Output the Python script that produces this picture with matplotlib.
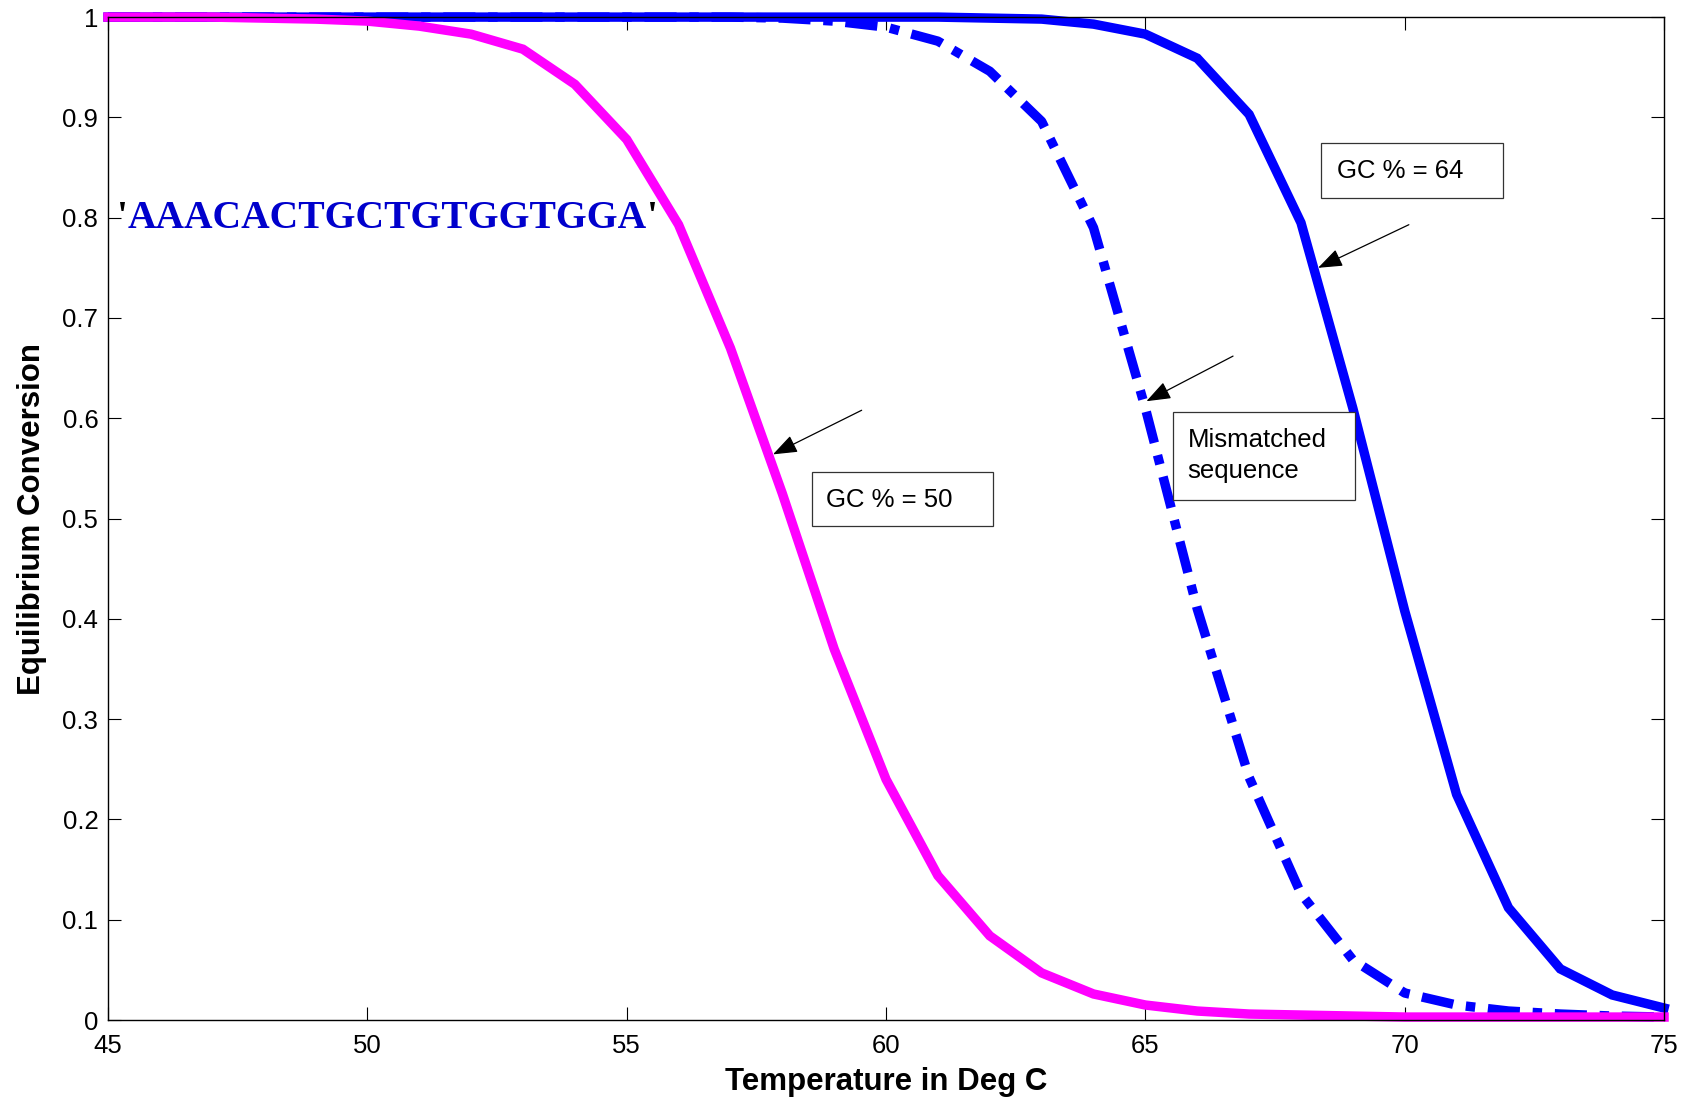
import matplotlib
matplotlib.use("Agg")
import matplotlib.pyplot as plt
from matplotlib.patches import Rectangle

# Temperature grid (deg C)
temperature = list(range(45, 76))

# Equilibrium conversion for each probe
gc50 = [1.000, 1.000, 1.000, 0.999, 0.998, 0.996, 0.991, 0.983, 0.968, 0.933,
        0.878, 0.793, 0.670, 0.525, 0.370, 0.240, 0.144, 0.084, 0.047, 0.026,
        0.015, 0.009, 0.006, 0.005, 0.004, 0.003, 0.003, 0.003, 0.003, 0.003,
        0.003]
mismatched = [1.000, 1.000, 1.000, 1.000, 1.000, 1.000, 1.000, 1.000, 1.000, 1.000,
              1.000, 1.000, 1.000, 0.999, 0.996, 0.990, 0.976, 0.946, 0.896, 0.790,
              0.610, 0.410, 0.242, 0.126, 0.060, 0.027, 0.015, 0.009, 0.006, 0.004,
              0.003]
gc64 = [1.000, 1.000, 1.000, 1.000, 1.000, 1.000, 1.000, 1.000, 1.000, 1.000,
        1.000, 1.000, 1.000, 1.000, 1.000, 1.000, 1.000, 0.999, 0.998, 0.993,
        0.983, 0.959, 0.903, 0.795, 0.610, 0.408, 0.225, 0.112, 0.051, 0.025,
        0.012]

x_ticks = [45, 50, 55, 60, 65, 70, 75]
y_ticks = [0, 0.1, 0.2, 0.3, 0.4, 0.5, 0.6, 0.7, 0.8, 0.9, 1.0]

sequence = "AAACACTGCTGTGGTGGA"
label_gc50 = "GC % = 50"
label_gc64 = "GC % = 64"
label_mismatch = "Mismatched\nsequence"

plt.rcParams['font.family'] = ['Liberation Sans', 'DejaVu Sans']

fig = plt.figure(figsize=(16.93, 11.03), dpi=100)
ax = fig.add_axes([0.0638, 0.0752, 0.9191, 0.9093])

lw = 6.8
ax.plot(temperature, gc64, color='#0000FF', lw=lw, solid_joinstyle='miter',
        clip_on=False, zorder=3)
ax.plot(temperature, mismatched, color='#0000FF', lw=lw,
        linestyle=(0, (3.4, 1.35, 1.0, 1.35)), dash_capstyle='butt',
        clip_on=False, zorder=3)
ax.plot(temperature, gc50, color='#FF00FF', lw=lw, solid_joinstyle='miter',
        clip_on=False, zorder=4)

ax.set_xlim(45, 75)
ax.set_ylim(0, 1)
ax.set_xticks(x_ticks)
ax.set_yticks(y_ticks)
ax.set_xticklabels([str(t) for t in x_ticks])
ax.set_yticklabels([f"{t:g}" for t in y_ticks])
ax.tick_params(direction='in', length=9.5, width=0.8, top=True, right=True,
               labelsize=18.5, colors='black')
ax.tick_params(axis='x', pad=10)
ax.tick_params(axis='y', pad=7)
for s in ax.spines.values():
    s.set_linewidth(1.0)
    s.set_zorder(5)

ax.set_xlabel("Temperature in Deg C", fontsize=22.5, fontweight='bold')
ax.set_ylabel("Equilibrium Conversion", fontsize=22.5, fontweight='bold')
ax.xaxis.set_label_coords(0.5, -0.047)
ax.yaxis.set_label_coords(-0.039, 0.5)

# Probe sequence, with black quote marks around the blue bases
seq_font = dict(family=['Liberation Serif', 'DejaVu Serif'], fontsize=28.5,
                fontweight='bold')
q1 = ax.text(45.17, 0.790, "'", color='black', va='baseline', ha='left',
             zorder=6, **seq_font)
s_txt = ax.annotate(sequence, xy=(1, 0), xycoords=q1, va='bottom', ha='left',
                    color='#0000CC', zorder=6, **seq_font)
ax.annotate("'", xy=(1, 0), xycoords=s_txt, va='bottom', ha='left',
            color='black', zorder=6, **seq_font)


def boxed_label(x0, x1, y0, y1, tx, ty, text):
    ax.add_patch(Rectangle((x0, y0), x1 - x0, y1 - y0, facecolor='white',
                           edgecolor='#333333', lw=0.9, zorder=6))
    ax.text(tx, ty, text, fontsize=18.5, ha='left', va='center',
            linespacing=1.4, zorder=7)


def pointer(start, tip):
    ax.annotate("", xy=tip, xytext=start,
                arrowprops=dict(arrowstyle="-|>,head_length=0.75,head_width=0.28",
                                color='black', lw=0.9, mutation_scale=20,
                                shrinkA=0, shrinkB=0),
                zorder=7)


boxed_label(58.57, 62.06, 0.4925, 0.546, 58.84, 0.519, label_gc50)
boxed_label(68.39, 71.89, 0.820, 0.874, 68.69, 0.847, label_gc64)
boxed_label(65.54, 69.04, 0.5186, 0.6058, 65.81, 0.563, label_mismatch)

pointer((59.53, 0.608), (57.82, 0.564))
pointer((66.69, 0.662), (65.02, 0.617))
pointer((70.08, 0.793), (68.33, 0.750))

fig.savefig("out.png", dpi=100)
